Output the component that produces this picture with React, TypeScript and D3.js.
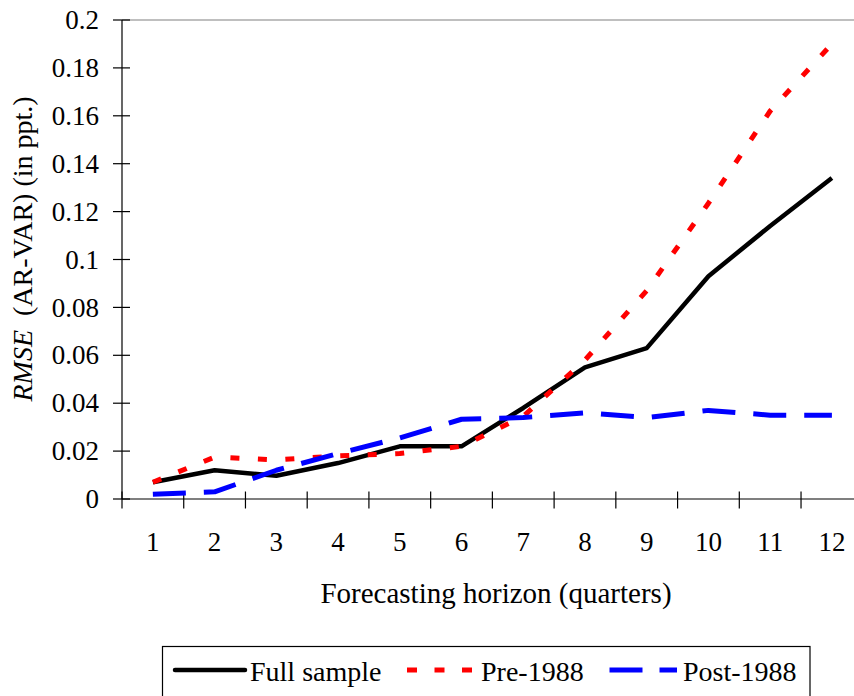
import React from "react";
import * as d3 from "d3";

const horizons = [1, 2, 3, 4, 5, 6, 7, 8, 9, 10, 11, 12];
const fullSample = [0.007, 0.012, 0.0097, 0.015, 0.022, 0.022, 0.038, 0.055, 0.063, 0.093, 0.114, 0.134];
const pre1988 = [0.007, 0.0175, 0.0163, 0.018, 0.019, 0.022, 0.0345, 0.058, 0.087, 0.1235, 0.162, 0.19];
const post1988 = [0.002, 0.003, 0.012, 0.019, 0.0255, 0.0333, 0.034, 0.036, 0.034, 0.037, 0.035, 0.035];
const yTicks = [0, 0.02, 0.04, 0.06, 0.08, 0.1, 0.12, 0.14, 0.16, 0.18, 0.2];

const seriesList = [
  { name: "Full sample", values: fullSample, color: "#000000", width: 4.5, dash: "", legendDash: "" },
  { name: "Pre-1988", values: pre1988, color: "#ff0000", width: 5, dash: "9,18.5", legendDash: "10,17.5" },
  { name: "Post-1988", values: post1988, color: "#0000ff", width: 5, dash: "33,18", legendDash: "33,17" },
];

const FONT = "'Liberation Serif', 'Times New Roman', serif";

export default function App() {
  const W = 854, H = 696;
  const left = 122, plotRight = 122 + 12 * 61.73, top = 20, bottom = 499;
  const x = d3.scaleBand<number>().domain(horizons).range([left, plotRight]).padding(0);
  const y = d3.scaleLinear().domain([0, 0.2]).range([bottom, top]);
  const cx = (h: number) => (x(h) as number) + x.bandwidth() / 2;
  const line = d3.line<number>().x((_, i) => cx(horizons[i])).y((v) => y(v));
  const bounds = d3.range(0, 13).map((k) => left + k * x.bandwidth());
  const fmt = (v: number) => String(+v.toFixed(2));

  const legendItems = [
    { lx0: 175, lx1: 245, tx: 250 },
    { lx0: 407, lx1: 475, tx: 481 },
    { lx0: 609.5, lx1: 677, tx: 683 },
  ];

  return (
    <svg width={W} height={H} style={{ position: "absolute", left: 0, top: 0, background: "#fff" }}>
      <rect x={0} y={0} width={W} height={H} fill="#fff" />
      {/* top border */}
      <line x1={left} x2={W} y1={top} y2={top} stroke="#808080" strokeWidth={1.2} />
      {/* y axis */}
      <line x1={left} x2={left} y1={top} y2={bottom} stroke="#000" strokeWidth={1.2} />
      {yTicks.map((t) => (
        <g key={t}>
          <line x1={113} x2={130} y1={y(t)} y2={y(t)} stroke="#000" strokeWidth={1.2} />
          <text x={99} y={y(t)} dy="0.34em" textAnchor="end" fontFamily={FONT} fontSize={27} fill="#000">
            {fmt(t)}
          </text>
        </g>
      ))}
      {/* x axis */}
      <line x1={left} x2={W} y1={bottom} y2={bottom} stroke="#000" strokeWidth={1.2} />
      {bounds.map((b, i) => (
        <line key={i} x1={b} x2={b} y1={491.5} y2={508.5} stroke="#000" strokeWidth={1.2} />
      ))}
      {horizons.map((h) => (
        <text key={h} x={cx(h)} y={551} textAnchor="middle" fontFamily={FONT} fontSize={27} fill="#000">
          {h}
        </text>
      ))}
      <text x={496} y={603} textAnchor="middle" fontFamily={FONT} fontSize={29} fill="#000">
        Forecasting horizon (quarters)
      </text>
      <text transform="translate(31.5,401.5) rotate(-90)" textAnchor="start" fontFamily={FONT} fontSize={28} fill="#000">
        <tspan fontStyle="italic">RMSE</tspan>
        <tspan>{"\u00a0 (AR-VAR) (in ppt.)"}</tspan>
      </text>
      {/* series */}
      {seriesList.map((s) => (
        <path
          key={s.name}
          d={line(s.values) || ""}
          fill="none"
          stroke={s.color}
          strokeWidth={s.width}
          strokeDasharray={s.dash || undefined}
          strokeLinejoin="round"
        />
      ))}
      {/* legend */}
      <rect x={162.5} y={646.5} width={647.5} height={80} fill="#fff" stroke="#000" strokeWidth={1.2} />
      {seriesList.map((s, i) => (
        <g key={s.name}>
          <line
            x1={legendItems[i].lx0}
            x2={legendItems[i].lx1}
            y1={670}
            y2={670}
            stroke={s.color}
            strokeWidth={s.width}
            strokeDasharray={s.legendDash || undefined}
            strokeLinecap={s.legendDash ? "butt" : "round"}
          />
          <text x={legendItems[i].tx} y={681} fontFamily={FONT} fontSize={28} fill="#000">
            {s.name}
          </text>
        </g>
      ))}
    </svg>
  );
}
